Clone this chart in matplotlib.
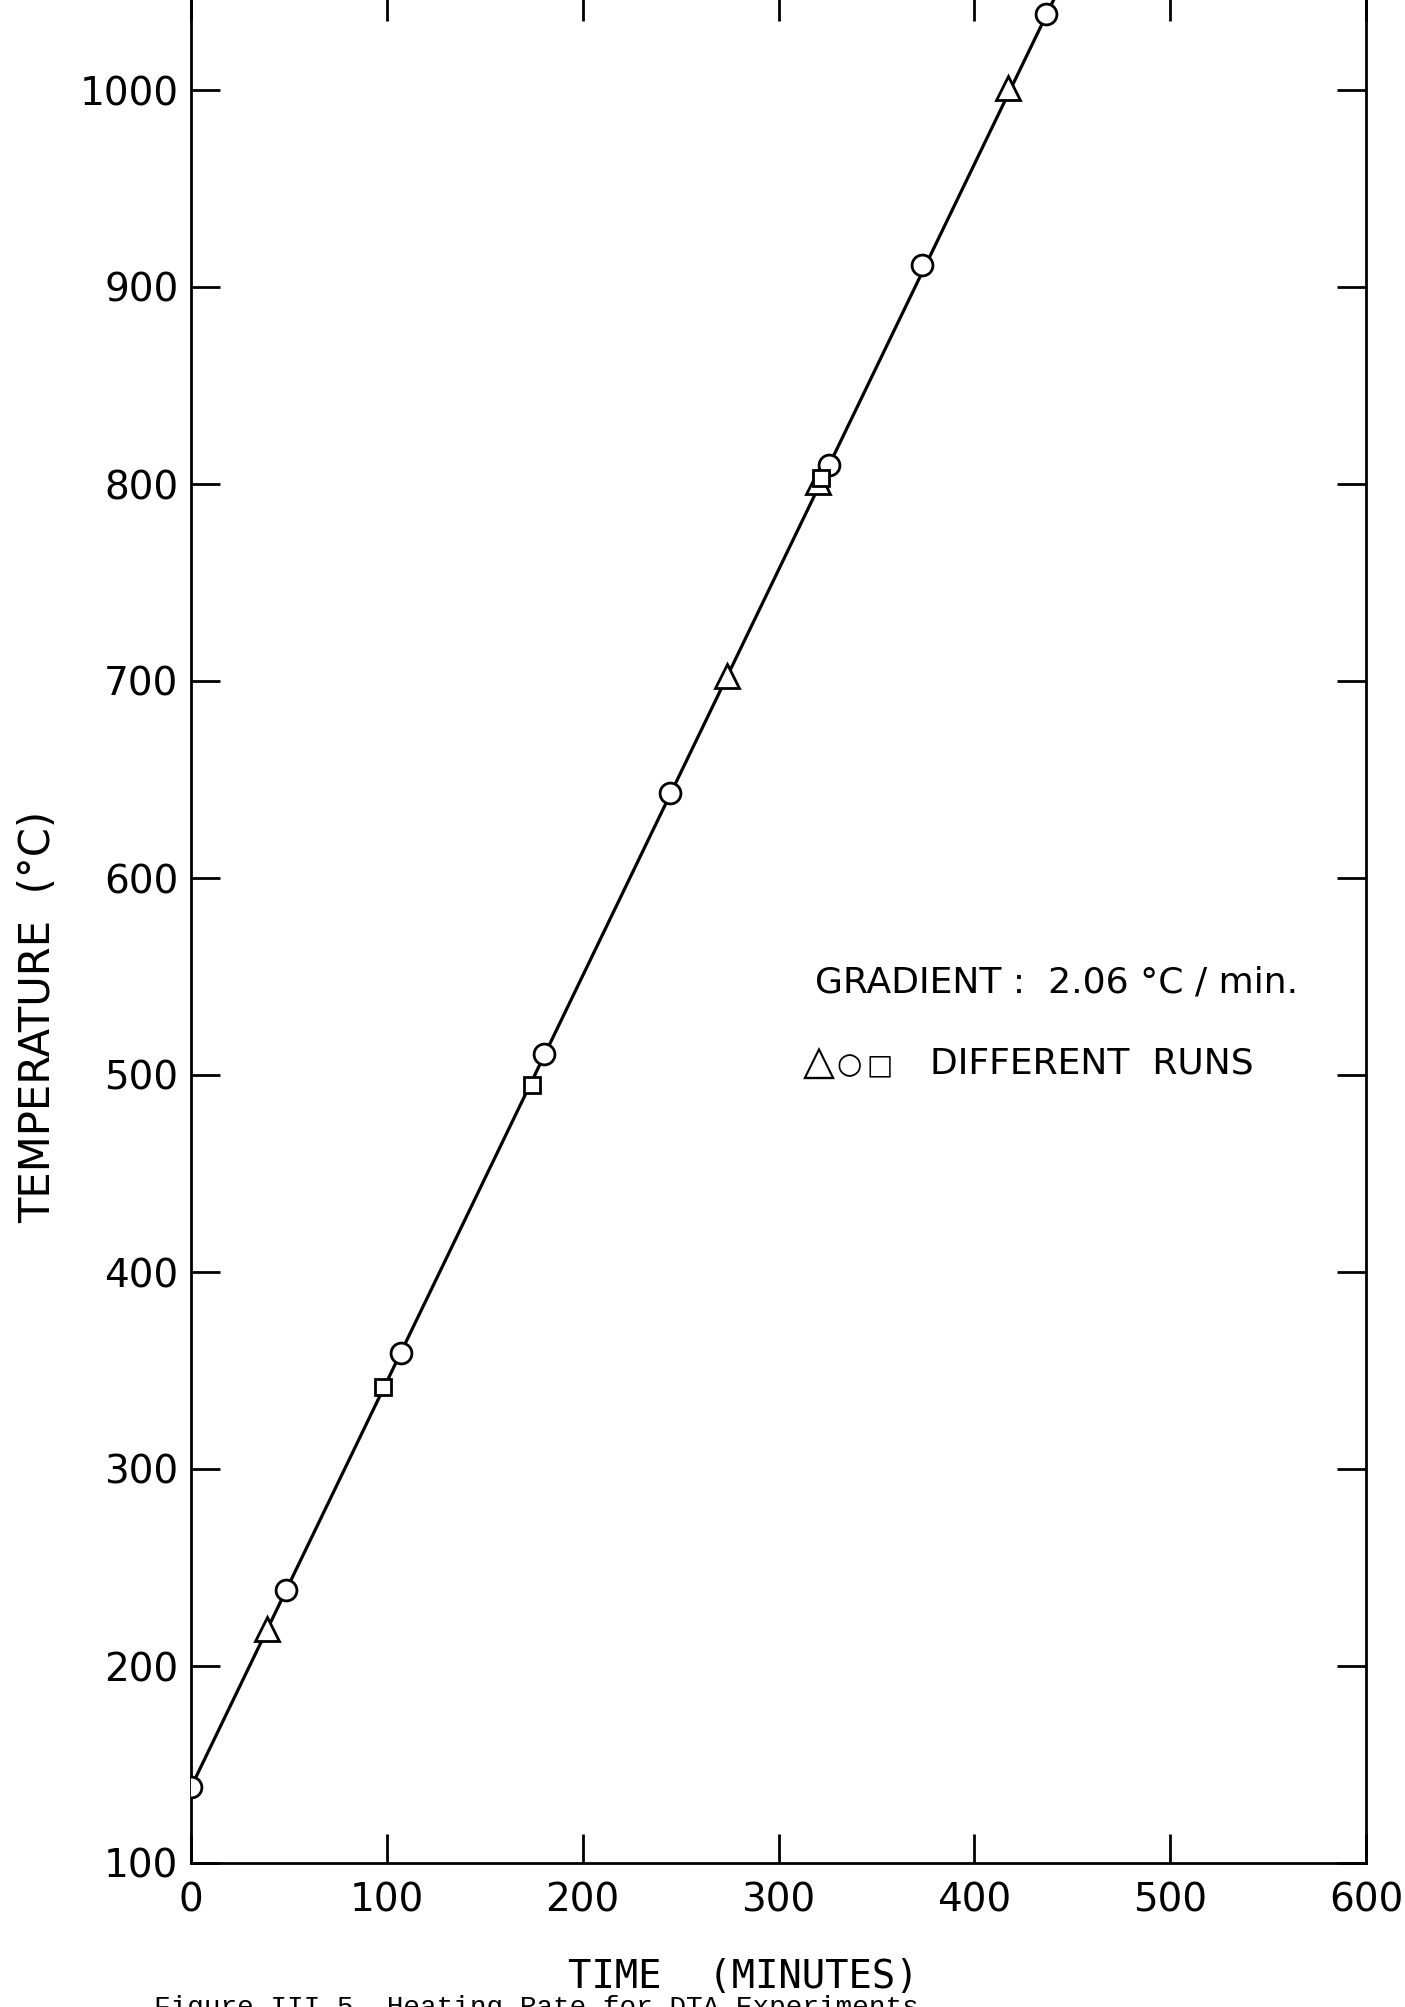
import numpy as np
import matplotlib
matplotlib.use('Agg')
import matplotlib.pyplot as plt

# data (time in minutes, temperature in deg C)
tri_time = [38.6, 273.6, 320.3, 417.2]
tri_temp = [218.8, 702.6, 801.2, 1001.0]

circ_time = [0.0, 48.4, 107.1, 180.3, 244.6, 325.9, 373.4, 436.6]
circ_temp = [138.4, 238.5, 358.7, 510.6, 643.4, 809.5, 911.4, 1038.4]

sq_time = [97.9, 174.0, 321.7]
sq_temp = [341.7, 494.8, 803.0]

# straight line through the runs (2.06 C/min)
line_time = [0.0, 445.0]
line_temp = [138.4, 1055.0]

x_ticks = [0, 100, 200, 300, 400, 500, 600]
y_ticks = [100, 200, 300, 400, 500, 600, 700, 800, 900, 1000]

W, H = 1405, 2007
fig = plt.figure(figsize=(W/100.0, H/100.0), dpi=100)

# axes goes a little past the top edge of the page, as in the scan
ax_l, ax_r = 191.0, 1366.0
ax_b, ax_t = 1863.0, -8.5
ax = fig.add_axes([ax_l/W, 1 - ax_b/H, (ax_r - ax_l)/W, (ax_b - ax_t)/H])

ax.plot(line_time, line_temp, color='black', lw=2.3, zorder=2, solid_capstyle='butt')

mk = dict(linestyle='none', markerfacecolor='white', markeredgecolor='black',
          markeredgewidth=2.0, zorder=3)
ax.plot(circ_time, circ_temp, marker='o', markersize=15, **mk)
ax.plot(tri_time, tri_temp, marker='^', markersize=17, **mk)
ax.plot(sq_time, sq_temp, marker='s', markersize=11, **mk)

ax.set_xlim(0, 600)
ax.set_ylim(100, 1050)
ax.set_xticks(x_ticks)
ax.set_yticks(y_ticks)

for s in ax.spines.values():
  s.set_linewidth(2.0)
ax.spines['top'].set_visible(False)

ax.tick_params(direction='in', length=21, width=2.0, labelsize=28,
               top=True, right=True, pad=9)
ax.tick_params(axis='x', pad=13)

ax.set_ylabel('TEMPERATURE  (°C)', fontsize=30)
ax.yaxis.set_label_coords(-0.112, 0.452)

# annotation text
def ax_xy(px, py):
  # page pixels -> axes fraction
  return (px - ax_l)/(ax_r - ax_l), (ax_b - py)/(ax_b - ax_t)

ax.text(*ax_xy(815, 983), 'GRADIENT :  2.06 °C / min.', transform=ax.transAxes,
        fontsize=26, va='center', ha='left')
ax.text(*ax_xy(819, 1063), '△', transform=ax.transAxes,
        fontsize=30, va='center', ha='center')
ax.text(*ax_xy(849, 1065), '○', transform=ax.transAxes,
        fontsize=21, va='center', ha='center')
ax.text(*ax_xy(880, 1065), '□', transform=ax.transAxes,
        fontsize=20, va='center', ha='center')
ax.text(*ax_xy(930, 1063), 'DIFFERENT  RUNS', transform=ax.transAxes,
        fontsize=26, va='center', ha='left')

# x axis title and the figure caption (cut off at the bottom of the page)
fig.text(743.0/W, 1 - 1977.0/H, 'TIME  (MINUTES)', family='DejaVu Sans Mono',
         fontsize=28, ha='center', va='center')
fig.text(154.0/W, 1 - 1995.0/H,
         'Figure III.5. Heating Rate for DTA Experiments',
         family='Liberation Mono', fontsize=20, ha='left', va='top')

fig.savefig('out.png', dpi=100, facecolor='white')
plt.close()
